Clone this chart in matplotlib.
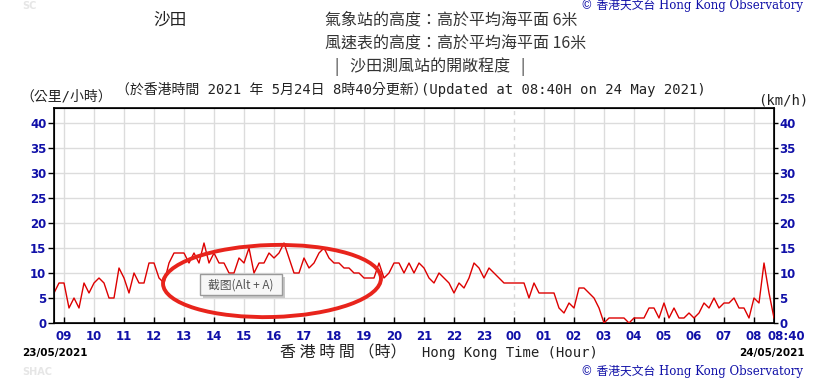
import numpy as np
import pandas as pd
import matplotlib
matplotlib.use("Agg")
import matplotlib.pyplot as plt
import matplotlib.transforms as mtransforms
from matplotlib.patches import Ellipse, Rectangle

# 10-minute mean wind at Sha Tin (km/h), every 10 min from 23/05/2021 08:40
wind_kmh = [
    6, 8, 8, 3, 5, 3,        # 08:40 - 09:30
    8, 6, 8, 9, 8, 5,        # 09:40 - 10:30
    5, 11, 9, 6, 10, 8,      # 10:40 - 11:30
    8, 12, 12, 9, 8, 12,     # 11:40 - 12:30
    14, 14, 14, 12, 14, 12,  # 12:40 - 13:30
    16, 12, 14, 12, 12, 10,  # 13:40 - 14:30
    10, 13, 12, 15, 10, 12,  # 14:40 - 15:30
    12, 14, 13, 14, 16, 13,  # 15:40 - 16:30
    10, 10, 13, 11, 12, 14,  # 16:40 - 17:30
    15, 13, 12, 12, 11, 11,  # 17:40 - 18:30
    10, 10, 9, 9, 9, 12,     # 18:40 - 19:30
    9, 10, 12, 12, 10, 12,   # 19:40 - 20:30
    10, 12, 11, 9, 8, 10,    # 20:40 - 21:30
    9, 8, 6, 8, 7, 9,        # 21:40 - 22:30
    12, 11, 9, 11, 10, 9,    # 22:40 - 23:30
    8, 8, 8, 8, 8, 5,        # 23:40 - 00:30
    8, 6, 6, 6, 6, 3,        # 00:40 - 01:30
    2, 4, 3, 7, 7, 6,        # 01:40 - 02:30
    5, 3, 0, 1, 1, 1,        # 02:40 - 03:30
    1, 0, 1, 1, 1, 3,        # 03:40 - 04:30
    3, 1, 4, 1, 3, 1,        # 04:40 - 05:30
    1, 2, 1, 2, 4, 3,        # 05:40 - 06:30
    5, 3, 4, 4, 5, 3,        # 06:40 - 07:30
    3, 1, 5, 4, 12, 6,       # 07:40 - 08:30
    1,                       # 08:40
]
start_time = "2021-05-23 08:40"
end_time = "2021-05-24 08:40"
hour_labels = ["09", "10", "11", "12", "13", "14", "15", "16", "17", "18", "19", "20",
               "21", "22", "23", "00", "01", "02", "03", "04", "05", "06", "07", "08", "08:40"]
y_ticks = [0, 5, 10, 15, 20, 25, 30, 35, 40]

BLUE = "#1010a8"
CJK = ["Noto Sans CJK TC", "DejaVu Sans"]
MONO = ["DejaVu Sans Mono", "Noto Sans CJK TC"]

times = pd.date_range(start_time, periods=len(wind_kmh), freq="10min")
hour_ticks = list(pd.date_range("2021-05-23 09:00", "2021-05-24 08:00", freq="h")) + [pd.Timestamp(end_time)]

fig = plt.figure(figsize=(8.32, 3.78), dpi=100)
ax = fig.add_axes([54 / 832, 1 - 323 / 378, 720 / 832, 215 / 378])

# grid
for t in hour_ticks[:-1]:
    if t.hour == 0:
        ax.axvline(t, color="#d8d8d8", lw=1, ls=(0, (3, 3)), zorder=0)
    else:
        ax.axvline(t, color="#dcdcdc", lw=1, zorder=0)
for v in y_ticks[1:]:
    ax.axhline(v, color="#dcdcdc", lw=1, zorder=0)

ax.plot(times, wind_kmh, color="#dd0000", lw=1.0, zorder=3)

ax.set_xlim(pd.Timestamp(start_time), pd.Timestamp(end_time))
ax.set_ylim(0, 43)
ax.set_yticks(y_ticks)
ax.set_xticks(hour_ticks)
ax.set_xticklabels(hour_labels)
for s in ax.spines.values():
    s.set_color("black")
    s.set_linewidth(1.2)
ax.tick_params(axis="x", direction="in", length=4, width=1, pad=5, colors="black", labelcolor=BLUE)
ax.tick_params(axis="y", direction="out", length=4.5, width=1, pad=1, colors="black", labelcolor=BLUE)
for lab in ax.get_xticklabels() + ax.get_yticklabels():
    lab.set_fontweight("bold")
    lab.set_fontsize(8.5)
# the last tick at 08:40 has no tick mark and its label sits right of the frame
ax.xaxis.get_major_ticks()[-1].tick1line.set_visible(False)
last = ax.get_xticklabels()[-1]
last.set_horizontalalignment("left")
last.set_transform(last.get_transform() + mtransforms.ScaledTranslation(-7 / 100, 0, fig.dpi_scale_trans))

ax2 = ax.twinx()
ax2.set_ylim(0, 43)
ax2.set_yticks(y_ticks)
ax2.tick_params(axis="y", direction="out", length=3, width=1, pad=1, colors="black", labelcolor=BLUE)
for lab in ax2.get_yticklabels():
    lab.set_fontweight("bold")
    lab.set_fontsize(8.5)


def px(x, y):
    return x / 832, 1 - y / 378


# header
fig.text(*px(22, 6), "SC", fontsize=7, color="#e6e6e6", fontweight="bold", va="center")
fig.text(*px(170, 20), "沙田", fontsize=12, family=CJK, color="#222222", ha="center", va="center")
fig.text(*px(325, 20), "氣象站的高度：高於平均海平面 6米", fontsize=11.5, family=CJK,
         color="#333333", va="center")
fig.text(*px(325, 44), "風速表的高度：高於平均海平面 16米", fontsize=11.5, family=CJK,
         color="#333333", va="center")
fig.text(*px(430, 67), "|   沙田測風站的開敞程度   |", fontsize=11.5, family=CJK,
         color="#333333", ha="center", va="center")
fig.text(*px(20, 97), "（公里/小時）", fontsize=10, family=MONO, color="#222222", va="center")
fig.text(*px(116, 90), "（於香港時間 2021 年 5月24日 8時40分更新）", fontsize=10, family=MONO,
         color="#222222", va="center")
fig.text(*px(421, 90), "(Updated at 08:40H on 24 May 2021)", fontsize=10, family=MONO,
         color="#222222", va="center")
fig.text(*px(808, 100), "(km/h)", fontsize=10, family=MONO, color="#222222", ha="right", va="center")
fig.text(*px(803, 5), "© 香港天文台 Hong Kong Observatory", fontsize=8.5,
         family=["DejaVu Serif", "Noto Sans CJK TC"], color=BLUE, ha="right", va="center")

# footer
fig.text(*px(22, 353), "23/05/2021", fontsize=7.5, fontweight="bold", color="black", va="center")
fig.text(*px(805, 353), "24/05/2021", fontsize=7.5, fontweight="bold", color="black",
         ha="right", va="center")
fig.text(*px(280, 353), "香 港 時 間 （時）", fontsize=11.5, family=CJK, color="#222222", va="center")
fig.text(*px(422, 353), "Hong Kong Time (Hour)", fontsize=10, family=MONO, color="#222222",
         va="center")
fig.text(*px(803, 371), "© 香港天文台 Hong Kong Observatory", fontsize=8.5,
         family=["DejaVu Serif", "Noto Sans CJK TC"], color=BLUE, ha="right", va="center")
fig.text(*px(22, 372), "SHAC", fontsize=7, color="#e6e6e6", fontweight="bold", va="center")

# red circle and screenshot tooltip drawn over the chart
inch = fig.dpi_scale_trans
fig.patches.append(Ellipse((2.72, (378 - 281) / 100), 2.18, 0.72, angle=1.5, fill=False,
                           ec="#e8241c", lw=2.8, transform=inch, zorder=10))
fig.patches.append(Rectangle((2.03, (378 - 298) / 100), 0.82, 0.21, fc="#c8c8c8", ec="none",
                             transform=inch, zorder=11))
fig.patches.append(Rectangle((2.00, (378 - 295) / 100), 0.82, 0.21, fc="#f7f7f7", ec="#9a9a9a",
                             lw=1, transform=inch, zorder=12))
fig.text(*px(241, 285), "截图(Alt + A)", fontsize=8.5, family=CJK, color="#555555",
         ha="center", va="center", zorder=13)

fig.savefig("out.png", dpi=100)
